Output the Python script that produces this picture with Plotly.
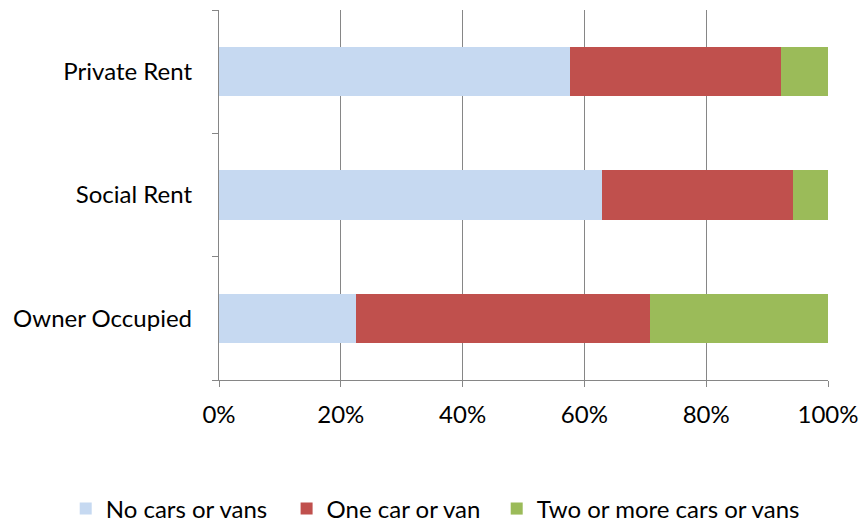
import plotly.graph_objects as go

categories = ["Owner Occupied", "Social Rent", "Private Rent"]
no_cars = [0.225, 0.629, 0.577]
one_car = [0.483, 0.314, 0.345]
two_plus = [0.292, 0.057, 0.078]
series_names = ["No cars or vans", "One car or van", "Two or more cars or vans"]
colors = ["#C6D9F1", "#C0504D", "#9BBB59"]
tick_vals = [0, 0.2, 0.4, 0.6, 0.8, 1.0]
tick_text = ["0%", "20%", "40%", "60%", "80%", "100%"]

legend_ids = ["legend", "legend2", "legend3"]
legend_x = [-0.2517, 0.1110, 0.4560]

fig = go.Figure()
for name, vals, c, lg in zip(series_names, [no_cars, one_car, two_plus], colors, legend_ids):
    fig.add_trace(go.Bar(y=categories, x=vals, name=name, orientation="h", legend=lg,
                         marker=dict(color=c, line=dict(width=0))))

font = dict(family="Lato, Carlito, Calibri, sans-serif", size=24, color="#000000")
legend_common = dict(orientation="h", xanchor="left", y=-0.3486, yanchor="middle",
                     font=font, itemwidth=30, bgcolor="rgba(0,0,0,0)")
fig.update_layout(
    barmode="stack",
    bargap=0.6,
    width=861, height=524,
    margin=dict(l=219, r=33, t=10, b=144, autoexpand=False),
    paper_bgcolor="white", plot_bgcolor="white",
    font=font,
    showlegend=True,
    legend=dict(x=legend_x[0], **legend_common),
    legend2=dict(x=legend_x[1], **legend_common),
    legend3=dict(x=legend_x[2], **legend_common),
    xaxis=dict(range=[0, 1], tickvals=tick_vals, ticktext=tick_text,
               showgrid=True, gridcolor="#868686", gridwidth=1.3,
               showline=True, linecolor="#868686", linewidth=1.3,
               ticks="outside", ticklen=6, tickcolor="#868686", tickwidth=1.3,
               zeroline=False, ticklabelstandoff=7),
    yaxis=dict(categoryorder="array", categoryarray=categories,
               showgrid=False, showline=True, linecolor="#868686", linewidth=1.3,
               ticks="outside", ticklen=6, tickcolor="#868686", tickwidth=1.3,
               tickson="boundaries", ticklabelstandoff=21),
)
fig.write_html("out.html")
